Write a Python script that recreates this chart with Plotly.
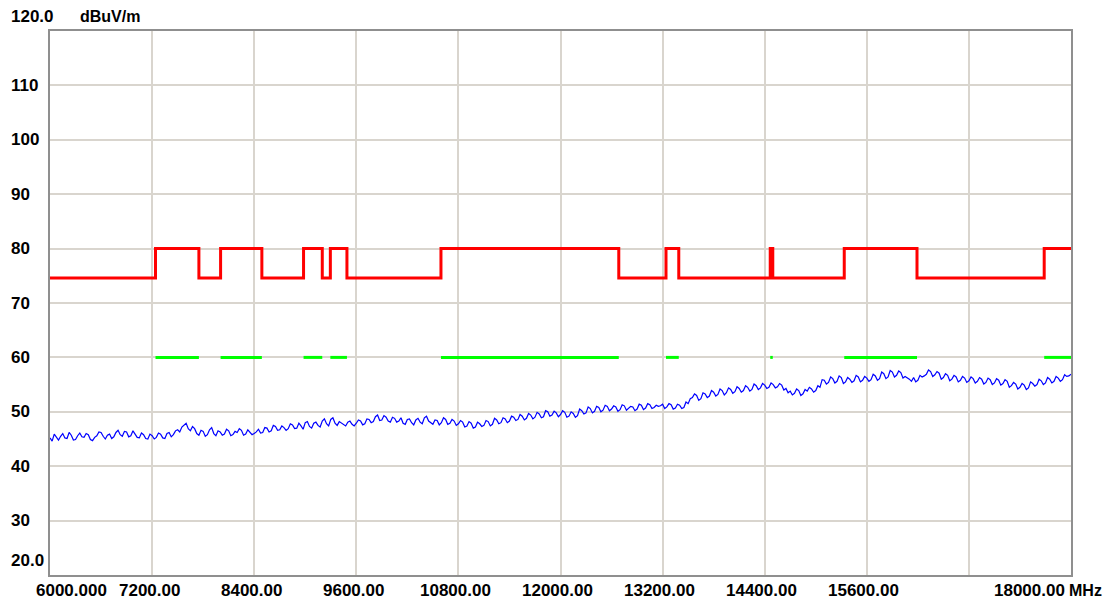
import plotly.graph_objects as go

# ---- data ----
freq_start = 6000.0
freq_stop = 18000.0
trace_dbuv = [
    45.2, 44.6, 45.9, 45.3, 44.8, 45.5, 46.0, 45.2, 45.1, 46.2, 45.7, 44.8, 44.9, 45.6, 46.1, 45.4, 45.3, 46.0, 45.8, 44.9, 44.7, 45.3, 45.6, 46.3, 46.2,
    45.5, 45.0, 45.7, 45.9, 45.1, 45.4, 46.2, 46.6, 45.8, 45.5, 46.4, 46.3, 45.4, 45.6, 46.5, 46.0, 45.3, 45.2, 46.1, 45.8, 45.1, 45.0, 45.9, 45.6,
    45.0, 45.3, 46.1, 45.9, 45.2, 45.1, 46.0, 46.2, 45.4, 45.8, 46.5, 46.7, 46.3, 47.2, 47.6, 47.9, 46.9, 46.5, 47.3, 46.9, 46.0, 45.7, 46.6, 46.4,
    45.5, 45.8, 46.7, 47.1, 46.0, 45.6, 46.5, 46.3, 45.7, 45.9, 46.8, 46.5, 45.6, 45.8, 46.4, 46.2, 46.9, 46.6, 45.7, 45.9, 46.7, 46.3, 45.8, 46.0,
    46.3, 46.8, 46.1, 46.2, 47.1, 47.0, 46.3, 46.5, 47.5, 47.3, 46.6, 46.7, 47.4, 47.1, 46.6, 46.9, 47.8, 47.6, 46.9, 47.0, 47.9, 47.4, 46.8, 48.0,
    48.2, 47.3, 47.0, 47.9, 48.1, 47.5, 47.2, 48.3, 48.7, 47.8, 47.4, 48.6, 48.9, 47.9, 47.5, 48.2, 47.9, 47.6, 47.4, 48.1, 48.3, 47.7, 47.4, 47.9,
    48.5, 48.3, 47.6, 47.8, 48.7, 48.6, 48.0, 48.2, 49.1, 49.4, 48.4, 48.5, 49.3, 49.0, 48.3, 48.1, 49.0, 48.8, 48.1, 48.3, 48.9, 47.9, 47.7, 48.6,
    48.7, 48.0, 47.6, 48.5, 48.8, 48.1, 47.8, 48.9, 49.2, 48.3, 48.0, 47.7, 48.5, 48.4, 47.6, 48.0, 48.9, 48.6, 47.7, 47.9, 48.6, 48.3, 47.5, 47.8,
    48.4, 48.1, 47.2, 47.4, 48.2, 47.9, 47.0, 47.2, 48.1, 47.8, 47.3, 47.5, 48.4, 48.2, 47.4, 47.7, 48.8, 48.5, 47.8, 48.0, 48.9, 48.7, 48.0, 48.3,
    49.2, 49.0, 48.4, 48.6, 49.5, 49.2, 48.5, 48.8, 49.7, 49.4, 48.7, 49.0, 49.9, 49.6, 48.9, 49.1, 50.2, 50.0, 49.2, 49.4, 50.1, 49.8, 49.1, 49.5,
    50.2, 49.9, 49.0, 49.2, 50.0, 49.7, 49.0, 49.3, 50.5, 50.2, 49.6, 49.8, 50.9, 50.6, 49.8, 50.1, 51.0, 50.8, 50.0, 50.3, 51.2, 51.0, 50.2, 50.5,
    51.1, 50.9, 50.1, 50.4, 51.3, 51.1, 50.3, 50.6, 51.0, 50.9, 50.2, 50.5, 51.4, 51.2, 50.4, 50.7, 51.5, 51.3, 50.6, 50.8, 51.2, 51.0, 51.1, 51.4,
    50.6, 50.9, 51.5, 51.3, 50.5, 50.7, 51.4, 51.2, 50.6, 50.8, 51.8, 51.5, 52.4, 52.6, 53.3, 53.0, 52.1, 52.4, 53.5, 53.3, 52.6, 52.9, 53.9, 53.6,
    52.9, 53.2, 54.2, 53.9, 53.1, 53.5, 54.4, 54.1, 53.4, 53.7, 54.6, 54.3, 53.6, 53.9, 54.8, 54.5, 53.8, 54.1, 55.1, 54.8, 54.1, 54.4, 55.2, 54.9,
    54.3, 54.5, 55.3, 55.0, 54.4, 54.6, 55.2, 54.9, 54.0, 54.3, 53.5, 53.8, 53.1, 53.4, 54.2, 53.9, 53.0, 53.3, 54.1, 53.8, 54.5, 54.2, 53.6, 53.9,
    54.8, 54.5, 55.9, 55.8, 55.1, 55.4, 56.4, 56.1, 55.3, 55.6, 56.6, 56.3, 55.2, 55.5, 56.3, 56.0, 55.4, 55.7, 56.7, 56.4, 55.5, 55.8, 56.5, 56.2,
    55.6, 55.9, 56.9, 56.6, 55.8, 56.1, 57.3, 57.0, 56.1, 56.4, 57.6, 57.3, 56.4, 56.7, 57.5, 57.2, 56.2, 56.5, 56.3, 56.0, 55.6, 56.3, 55.5, 55.8,
    56.7, 56.4, 56.6, 56.9, 57.7, 57.4, 56.5, 56.8, 57.4, 57.1, 56.0, 56.3, 57.0, 56.7, 55.7, 56.0, 56.7, 56.4, 55.5, 55.8, 56.5, 56.2, 55.4, 55.7,
    56.4, 56.1, 55.3, 55.6, 56.3, 56.0, 55.1, 55.4, 56.2, 55.9, 55.0, 55.3, 56.1, 55.8, 54.9, 55.2, 55.9, 55.6, 54.5, 54.8, 55.4, 55.1, 54.2, 54.5,
    55.2, 54.9, 54.1, 54.4, 55.5, 55.2, 54.7, 55.0, 56.0, 55.7, 55.0, 55.3, 56.3, 56.0, 55.3, 55.6, 56.5, 56.2, 55.6, 55.9, 56.8, 56.5, 56.6, 56.9,
]
limit_edges = [6000, 7240, 7750, 8005, 8490, 8980, 9200, 9295, 9490, 10595, 12685,
               13240, 13390, 14465, 14495, 15335, 16190, 17685, 18000]
limit_levels = [74.6, 80, 74.6, 80, 74.6, 80, 74.6, 80, 74.6, 80, 74.6,
                80, 74.6, 80, 74.6, 80, 74.6, 80]
avg_limit = 60
x_ticks = [6000, 7200, 8400, 9600, 10800, 12000, 13200, 14400, 15600, 16800, 18000]
x_tick_labels = ["6000.000", "7200.00", "8400.00", "9600.00", "10800.00", "12000.00",
                 "13200.00", "14400.00", "15600.00", "", "18000.00"]
y_ticks = [20, 30, 40, 50, 60, 70, 80, 90, 100, 110, 120]
y_tick_labels = ["20.0", "30", "40", "50", "60", "70", "80", "90", "100", "110", "120.0"]

# ---- build ----
n = len(trace_dbuv)
freq_step = (freq_stop - freq_start) / (n - 1)
freqs = [freq_start + i * freq_step for i in range(n)]

red_x = list(limit_edges)
red_y = list(limit_levels) + [limit_levels[-1]]

green_x, green_y = [], []
for i, lv in enumerate(limit_levels):
    if lv == 80:
        green_x += [limit_edges[i], limit_edges[i + 1], None]
        green_y += [avg_limit, avg_limit, None]

fig = go.Figure()
fig.add_trace(go.Scatter(x=green_x, y=green_y, mode="lines",
                         line=dict(color="#00ff00", width=3), hoverinfo="skip"))
fig.add_trace(go.Scatter(x=red_x, y=red_y, mode="lines", line_shape="hv",
                         line=dict(color="#ff0000", width=3), hoverinfo="skip"))
fig.add_trace(go.Scatter(x=freqs, y=trace_dbuv, mode="lines",
                         line=dict(color="#0000ff", width=1.2)))

font_lbl = dict(family="Liberation Sans, Arial", size=17, color="#000000")
ann = []
for v, t in zip(x_ticks, x_tick_labels):
    if not t:
        continue
    if v == x_ticks[0]:
        ann.append(dict(x=v, y=0, xref="x", yref="paper", text="<b>%s</b>" % t,
                        showarrow=False, xanchor="left", yanchor="middle",
                        xshift=-16, yshift=-15, font=font_lbl))
    elif v == x_ticks[-1]:
        ann.append(dict(x=v, y=0, xref="x", yref="paper", text="<b>%s</b>" % t,
                        showarrow=False, xanchor="right", yanchor="middle",
                        xshift=-4, yshift=-15, font=font_lbl))
        ann.append(dict(x=v, y=0, xref="x", yref="paper", text="<b>MHz</b>",
                        showarrow=False, xanchor="left", yanchor="middle",
                        xshift=-4, yshift=-15,
                        font=dict(family="Liberation Sans, Arial", size=16, color="#000000")))
    else:
        ann.append(dict(x=v, y=0, xref="x", yref="paper", text="<b>%s</b>" % t,
                        showarrow=False, xanchor="center", yanchor="middle",
                        xshift=-3, yshift=-15, font=font_lbl))
for v, t in zip(y_ticks, y_tick_labels):
    ys = 15 if v in (20, 120) else 0
    ann.append(dict(x=0, y=v, xref="paper", yref="y", text="<b>%s</b>" % t,
                    showarrow=False, xanchor="left", yanchor="middle",
                    xshift=-41, yshift=ys, font=font_lbl))
ann.append(dict(x=0, y=120, xref="paper", yref="y", text="<b>dBuV/m</b>",
                showarrow=False, xanchor="left", yanchor="middle",
                xshift=28, yshift=15,
                font=dict(family="Liberation Sans, Arial", size=16, color="#000000")))

# page body has an 8px margin, so the figure is 1105x594 placed at (8, 8)
fig.update_layout(
    width=1105, height=594,
    margin=dict(l=42, r=42, t=23, b=27),
    paper_bgcolor="white", plot_bgcolor="white",
    showlegend=False,
    annotations=ann,
    xaxis=dict(range=[6000, 18000], tickvals=x_ticks, showticklabels=False,
               showgrid=True, gridcolor="#d9d5ce", gridwidth=2, zeroline=False,
               showline=True, linecolor="#8f8f8f", linewidth=2, mirror=True,
               ticks=""),
    yaxis=dict(range=[20, 120], tickvals=y_ticks, showticklabels=False,
               showgrid=True, gridcolor="#d9d5ce", gridwidth=2, zeroline=False,
               showline=True, linecolor="#8f8f8f", linewidth=2, mirror=True,
               ticks=""),
)

fig.write_html("out.html")
